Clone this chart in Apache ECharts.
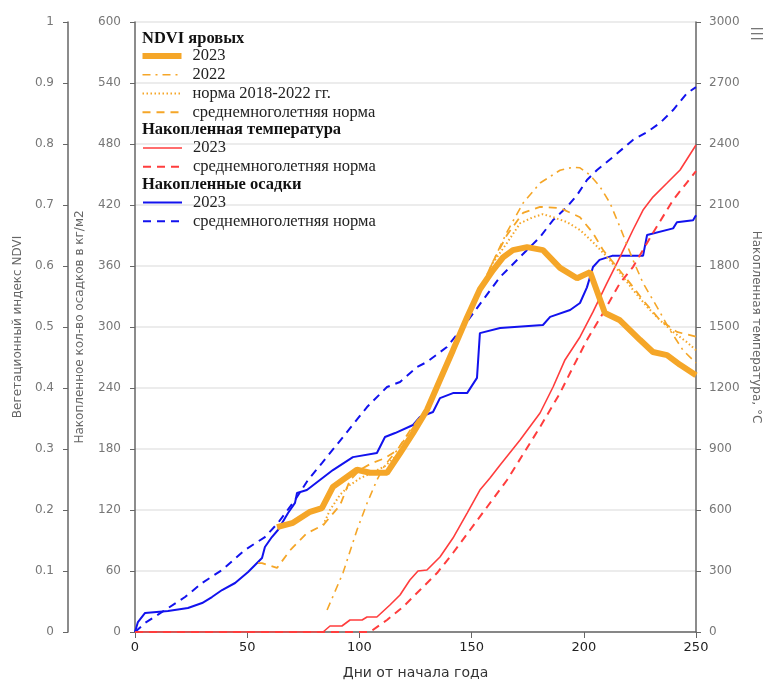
<!DOCTYPE html>
<html>
<head>
<meta charset="utf-8">
<script src="https://cdn.jsdelivr.net/npm/echarts@6/dist/echarts.min.js"></script>
<style>
  html, body { margin: 0; padding: 0; background: #fff; }
  #main { width: 766px; height: 682px; }
</style>
</head>
<body>
<div id="main"></div>
<script>
// дни от начала года / значения
const ndvi2023 = [[63.3,0.172],[70.4,0.179],[78,0.197],[83.3,0.203],[88.2,0.238],[98.9,0.266],[104.7,0.261],[112.3,0.261],[118.1,0.293],[123.9,0.326],[130.1,0.364],[135.9,0.413],[141.7,0.462],[148,0.516],[153.7,0.562],[159.5,0.593],[164,0.614],[168.4,0.626],[174.7,0.631],[181.8,0.626],[189.4,0.597],[197,0.58],[202.8,0.59],[209.4,0.523],[216.1,0.511],[225,0.479],[230.8,0.459],[237.1,0.454],[242.9,0.438],[250,0.421]];
const ndvi2022 = [[85.6,0.036],[92.7,0.097],[98.9,0.167],[103.4,0.211],[107.8,0.249],[111.4,0.274],[116.8,0.298],[122.5,0.328],[130.1,0.366],[135.9,0.412],[141.7,0.462],[148,0.515],[153.7,0.56],[159.5,0.607],[165.8,0.656],[172.9,0.703],[180.5,0.736],[189.4,0.757],[195.2,0.762],[198.3,0.761],[202.8,0.749],[207.2,0.73],[211.7,0.703],[216.1,0.664],[221.9,0.61],[226.4,0.572],[232.6,0.533],[238.4,0.495],[244.2,0.462],[250,0.441]];
const ndviNorm = [[83.8,0.175],[86.9,0.2],[91.4,0.225],[95.8,0.241],[100.3,0.252],[105.6,0.261],[111.4,0.272],[116.8,0.29],[122.5,0.322],[130.1,0.362],[135.9,0.41],[141.7,0.459],[148,0.511],[153.7,0.557],[159.5,0.605],[165.8,0.638],[171.6,0.67],[177.4,0.68],[181.8,0.685],[186.3,0.68],[192.5,0.672],[198.3,0.659],[204.1,0.639],[210.3,0.615],[216.1,0.589],[221.9,0.561],[228.2,0.533],[234,0.511],[239.8,0.492],[246,0.475],[250,0.462]];
const ndviAvg = [[54.8,0.113],[56.6,0.113],[63.3,0.105],[69.1,0.134],[76.6,0.162],[83.8,0.175],[91.4,0.208],[95.8,0.249],[100.3,0.266],[105.6,0.277],[111.4,0.285],[116.8,0.298],[122.5,0.33],[130.1,0.368],[135.9,0.415],[141.7,0.464],[148,0.515],[153.7,0.56],[159.5,0.607],[165.8,0.651],[172.9,0.687],[180.5,0.697],[189.4,0.695],[198.3,0.68],[204.1,0.654],[208.6,0.626],[214.8,0.598],[220.6,0.572],[226.4,0.544],[234,0.511],[241.5,0.492],[250,0.484]];
const temp2023 = [[0,0],[83.8,0],[86.9,29.5],[92.2,29.5],[95.8,59],[101.2,59],[103.4,73.8],[107.8,73.8],[113.6,132.8],[118.1,182],[122.5,255.7],[126.1,300],[130.1,305],[135.9,368.9],[141.7,462],[148,585],[153.7,698],[158.2,757],[162.7,821],[171.6,944],[180.5,1077],[186.3,1205],[191.6,1338],[198.3,1451],[204.1,1574],[210.3,1716],[216.1,1844],[221.9,1977],[226.4,2075],[230.8,2139],[237.1,2208],[242.9,2272],[250,2395]];
const tempAvg = [[0,0],[104.7,0],[112.3,59],[119.4,123],[127,206.6],[134.6,290],[141.7,388.5],[149.3,501.6],[156.9,614.8],[165.8,747.5],[173,875],[180.5,1008],[189.4,1175],[195.2,1303],[201.4,1436],[208.6,1569],[216.1,1716],[221.9,1795],[230.8,1962],[239.8,2125],[250,2267]];
const precip2023 = [[0,0],[1.3,9.8],[4.5,18.7],[14.7,20.7],[23.6,23.6],[29.9,28.5],[34.3,34.4],[38.8,41.3],[44.6,48.2],[50.4,59],[53.5,65.9],[56.6,72.8],[57.9,83.6],[61,93.4],[63.7,100.3],[68.2,117],[71.3,127],[72.2,136.7],[76.6,139.7],[82.4,149.5],[88.2,159.3],[97.1,172],[107.8,176],[111.4,191.8],[115.9,195.7],[123.9,203.6],[127,211.5],[132.8,216.4],[135.9,230],[141.7,235],[148,235],[152.4,250],[153.2,250],[153.7,294],[162.7,299],[181.8,302],[185,310],[193.9,316.7],[198.3,323.6],[201.4,339],[204.1,359],[207,366],[212.6,370],[226.4,370],[228.2,390.5],[239.8,397],[241.5,403],[248.7,405],[250,410]];
const precipAvg = [[0,0],[4.5,8.9],[13.4,21.6],[22.3,34.4],[29.9,48.2],[38.8,61],[49,80.7],[57.9,93.4],[63.7,107.2],[71.3,129.8],[77.1,149.5],[83.3,166.2],[89.1,182],[92.7,191.8],[103.4,221.3],[112.3,241],[118.1,245.9],[125.7,260.6],[130.1,265.6],[139,280.3],[146.2,300],[155.1,326.6],[162.7,349.2],[174.7,375.7],[180.5,388.5],[186.3,405.2],[192.5,418],[197,429.8],[201.4,444.6],[205.9,454.4],[213,467.2],[221.9,484],[228.2,491.8],[234,500.7],[239.8,513.4],[246,530],[250,536]];

const orange = '#f5a628';
const red = '#ff3d3d';
const blue = '#1212ee';
const serif = '"Liberation Serif", "DejaVu Serif", serif';
const sans = '"DejaVu Sans", sans-serif';

let myChart = echarts.init(document.getElementById('main'));

let legendText = { fontFamily: serif, fontSize: 16.5, color: '#222', lineHeight: 16.5, padding: [0, 0, 0, 6] };
function legendBox(left, top, names) {
    return {
        orient: 'vertical',
        left: left,
        top: top,
        itemWidth: 39,
        itemHeight: 10,
        itemGap: 1.75,
        padding: 0,
        textStyle: legendText,
        itemStyle: { opacity: 0 },
        lineStyle: { width: 'inherit' },
        data: names
    };
}

function heading(text, y) {
    return {
        type: 'text',
        left: 142,
        top: y - 8.5,
        style: { text: text, font: 'bold 16.5px ' + serif, fill: '#111' }
    };
}

function plain(v) { return String(Math.round(v * 10) / 10); }

let option = {
    animation: false,
    grid: { left: 135, right: 70, top: 22, bottom: 50, outerBoundsMode: 'none', containLabel: false },
    legend: [
        legendBox(139.5, 47.5, ['2023', '2022', 'норма 2018-2022 гг.', 'среднемноголетняя норма']),
        legendBox(142, 139.5, ['2023 ', 'среднемноголетняя норма ']),
        legendBox(142, 194, ['2023  ', 'среднемноголетняя норма  '])
    ],
    graphic: [
        heading('NDVI яровых', 38.3),
        heading('Накопленная температура', 129.5),
        heading('Накопленные осадки', 184.3),
        // значок меню
        { type: 'rect', right: 3, top: 28, shape: { width: 12, height: 1.3 }, style: { fill: '#777' } },
        { type: 'rect', right: 3, top: 33, shape: { width: 12, height: 1.3 }, style: { fill: '#777' } },
        { type: 'rect', right: 3, top: 38, shape: { width: 12, height: 1.3 }, style: { fill: '#777' } }
    ],
    xAxis: {
        type: 'value',
        min: 0, max: 250, interval: 50,
        name: 'Дни от начала года',
        nameLocation: 'middle',
        nameGap: 34,
        nameTextStyle: { fontFamily: sans, fontSize: 14, color: '#333' },
        axisLine: { lineStyle: { color: '#666', width: 1.5 } },
        axisTick: { length: 6, lineStyle: { color: '#666' } },
        axisLabel: { fontFamily: sans, fontSize: 13, color: '#222', margin: 9, formatter: plain },
        splitLine: { show: false }
    },
    yAxis: [
        {
            type: 'value', position: 'left',
            min: 0, max: 600, interval: 60,
            name: 'Накопленное кол-во осадков в кг/м2',
            nameLocation: 'middle', nameGap: 49,
            nameTextStyle: { fontFamily: sans, fontSize: 12, color: '#666' },
            axisLine: { show: true, lineStyle: { color: '#666', width: 1.5 } },
            axisTick: { show: true, length: 5, lineStyle: { color: '#666' } },
            axisLabel: { fontFamily: sans, fontSize: 12, color: '#777', margin: 14, formatter: plain },
            splitLine: { lineStyle: { color: '#e6e6e6', width: 1.5 } }
        },
        {
            type: 'value', position: 'left', offset: 67,
            min: 0, max: 1, interval: 0.1,
            name: 'Вегетационный индекс NDVI',
            nameLocation: 'middle', nameGap: 43,
            nameTextStyle: { fontFamily: sans, fontSize: 12, color: '#666' },
            axisLine: { show: true, lineStyle: { color: '#666', width: 1.5 } },
            axisTick: { show: true, length: 5, lineStyle: { color: '#666' } },
            axisLabel: { fontFamily: sans, fontSize: 12, color: '#777', margin: 14, formatter: plain },
            splitLine: { show: false }
        },
        {
            type: 'value', position: 'right',
            min: 0, max: 3000, interval: 300,
            name: 'Накопленная температура, °С',
            nameLocation: 'middle', nameGap: 50, nameRotate: -90,
            nameTextStyle: { fontFamily: sans, fontSize: 12, color: '#666' },
            axisLine: { show: true, lineStyle: { color: '#666', width: 1.5 } },
            axisTick: { show: true, length: 5, lineStyle: { color: '#666' } },
            axisLabel: { fontFamily: sans, fontSize: 12, color: '#777', margin: 13, formatter: plain },
            splitLine: { show: false }
        }
    ],
    series: [
        { name: 'среднемноголетняя норма  ', type: 'line', yAxisIndex: 0, data: precipAvg, symbol: 'none', color: blue,
          lineStyle: { color: blue, width: 2, type: [8, 6] } },
        { name: '2023  ', type: 'line', yAxisIndex: 0, data: precip2023, symbol: 'none', color: blue,
          lineStyle: { color: blue, width: 2 } },
        { name: 'среднемноголетняя норма ', type: 'line', yAxisIndex: 2, data: tempAvg, symbol: 'none', color: red,
          lineStyle: { color: red, width: 2, type: [8, 6] } },
        { name: '2023 ', type: 'line', yAxisIndex: 2, data: temp2023, symbol: 'none', color: red,
          lineStyle: { color: red, width: 1.6 } },
        { name: 'среднемноголетняя норма', type: 'line', yAxisIndex: 1, data: ndviAvg, symbol: 'none', color: orange,
          lineStyle: { color: orange, width: 1.8, type: [8, 6] } },
        { name: 'норма 2018-2022 гг.', type: 'line', yAxisIndex: 1, data: ndviNorm, symbol: 'none', color: orange,
          lineStyle: { color: orange, width: 2, type: [1.5, 2.5] } },
        { name: '2022', type: 'line', yAxisIndex: 1, data: ndvi2022, symbol: 'none', color: orange,
          lineStyle: { color: orange, width: 1.6, type: [8, 5, 2, 5] } },
        { name: '2023', type: 'line', yAxisIndex: 1, data: ndvi2023, symbol: 'none', color: orange,
          lineStyle: { color: orange, width: 6 } }
    ]
};

myChart.setOption(option);
</script>
</body>
</html>
